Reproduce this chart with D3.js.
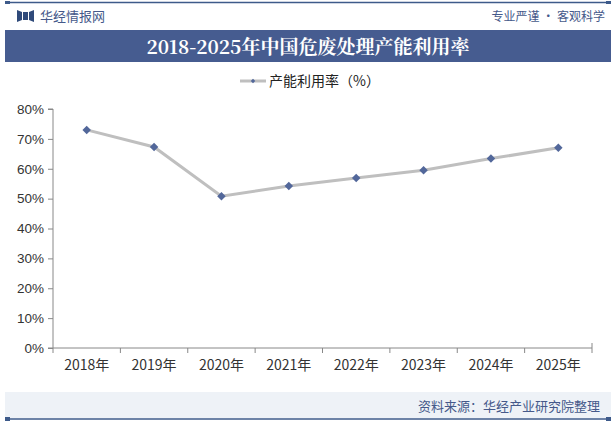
<!DOCTYPE html>
<meta charset="utf-8">
<script src="https://d3js.org/d3.v7.min.js"></script>
<style>
  body { margin: 0; background: #fff; }
  svg { display: block; font-family: "Liberation Sans", Arial, sans-serif; }
</style>
<div id="chart"></div>
<script>
var years = ["2018年", "2019年", "2020年", "2021年", "2022年", "2023年", "2024年", "2025年"];
var rates = [73.0, 67.3, 50.8, 54.2, 56.9, 59.5, 63.4, 67.0];
var yTicks = [0, 10, 20, 30, 40, 50, 60, 70, 80];

var W = 616, H = 421;
var svg = d3.select("#chart").append("svg").attr("width", W).attr("height", H);
var cjk = "'Noto Sans CJK SC', sans-serif";

// header line + branding
svg.append("line").attr("x1", 5).attr("x2", 611).attr("y1", 2.5).attr("y2", 2.5)
    .attr("stroke", "#3d5a8a").attr("stroke-width", 1.5);
svg.append("rect").attr("x", 5).attr("y", 1).attr("width", 5).attr("height", 3).attr("fill", "#3d5a8a");
svg.append("rect").attr("x", 606).attr("y", 1).attr("width", 5).attr("height", 3).attr("fill", "#3d5a8a");
svg.append("path").attr("d", "M17,10 L22,12 L22,20 L17,22 Z M23,12 L28,12 L28,20 L23,20 Z M29,12 L34,10 L34,22 L29,20 Z")
    .attr("fill", "#2f4a7a");
svg.append("text").attr("x", 40).attr("y", 21).attr("font-size", 13).attr("fill", "#45598a")
    .style("font-family", cjk).text("华经情报网");
svg.append("text").attr("x", 605).attr("y", 21).attr("text-anchor", "end").attr("font-size", 12)
    .attr("fill", "#45598a").style("font-family", cjk).text("专业严谨 • 客观科学");

// title bar
svg.append("rect").attr("x", 5).attr("y", 30).attr("width", 606).attr("height", 32).attr("fill", "#465c90");
svg.append("text").attr("x", W / 2).attr("y", 54).attr("text-anchor", "middle")
    .attr("font-size", 19).attr("font-weight", "bold").attr("fill", "#fff")
    .style("font-family", "'Noto Serif CJK SC', 'Liberation Serif', serif")
    .text("2018-2025年中国危废处理产能利用率");

// legend
var lg = svg.append("g").attr("transform", "translate(240,81)");
lg.append("line").attr("x1", 0).attr("x2", 26).attr("stroke", "#bfbfbf").attr("stroke-width", 3);
lg.append("path").attr("d", d3.symbol(d3.symbolSquare, 10)()).attr("transform", "translate(13,0) rotate(45)").attr("fill", "#52679a");
lg.append("text").attr("x", 29).attr("y", 5).attr("font-size", 14).attr("fill", "#222")
    .style("font-family", cjk).text("产能利用率（%）");

// plot
var pLeft = 53, pRight = 592, pTop = 109, pBottom = 348;
var x = d3.scaleBand().domain(years).range([pLeft, pRight]);
var y = d3.scaleLinear().domain([0, 80]).range([pBottom, pTop]);

var yAxis = svg.append("g").attr("transform", "translate(" + pLeft + ",0)")
    .call(d3.axisLeft(y).tickValues(yTicks).tickFormat(function(d) { return d + "%"; }).tickSize(5).tickPadding(4));
yAxis.selectAll("text").attr("font-size", 13.5).attr("fill", "#333");
yAxis.selectAll("line").attr("stroke", "#888");
yAxis.select(".domain").attr("stroke", "#888").attr("d", "M-5," + pTop + "H0V" + pBottom + "H-5");

var xAxis = svg.append("g").attr("transform", "translate(0," + pBottom + ")")
    .call(d3.axisBottom(x).tickSize(0).tickPadding(12));
xAxis.selectAll("text").attr("font-size", 14).attr("fill", "#333").style("font-family", cjk);
xAxis.select(".domain").attr("stroke", "#888").attr("d", "M" + pLeft + ",0H" + pRight + "V-5");
xAxis.selectAll(".sep").data(years).enter().append("line")
    .attr("x1", function(d) { return x(d); }).attr("x2", function(d) { return x(d); })
    .attr("y1", 0).attr("y2", 5).attr("stroke", "#888");
xAxis.append("line").attr("x1", pRight).attr("x2", pRight).attr("y1", 0).attr("y2", 5).attr("stroke", "#888");

var cx = function(d, i) { return x(years[i]) + x.bandwidth() / 2; };
var line = d3.line().x(function(d, i) { return cx(d, i); }).y(function(d) { return y(d); });
svg.append("path").datum(rates).attr("d", line).attr("fill", "none")
    .attr("stroke", "#bfbfbf").attr("stroke-width", 3);
svg.selectAll(".pt").data(rates).enter().append("path")
    .attr("d", d3.symbol(d3.symbolSquare, 36)())
    .attr("transform", function(d, i) { return "translate(" + cx(d, i) + "," + y(d) + ") rotate(45)"; })
    .attr("fill", "#52679a");

// footer
svg.append("rect").attr("x", 5).attr("y", 392).attr("width", 606).attr("height", 26).attr("fill", "#eef2f7");
svg.append("text").attr("x", 600).attr("y", 411).attr("text-anchor", "end").attr("font-size", 13)
    .attr("fill", "#45598a").style("font-family", cjk).text("资料来源：华经产业研究院整理");
svg.append("line").attr("x1", 5).attr("x2", 611).attr("y1", 419).attr("y2", 419)
    .attr("stroke", "#3d5a8a").attr("stroke-width", 1.5);
svg.append("rect").attr("x", 5).attr("y", 417).attr("width", 5).attr("height", 4).attr("fill", "#3d5a8a");
svg.append("rect").attr("x", 606).attr("y", 417).attr("width", 5).attr("height", 4).attr("fill", "#3d5a8a");
</script>
